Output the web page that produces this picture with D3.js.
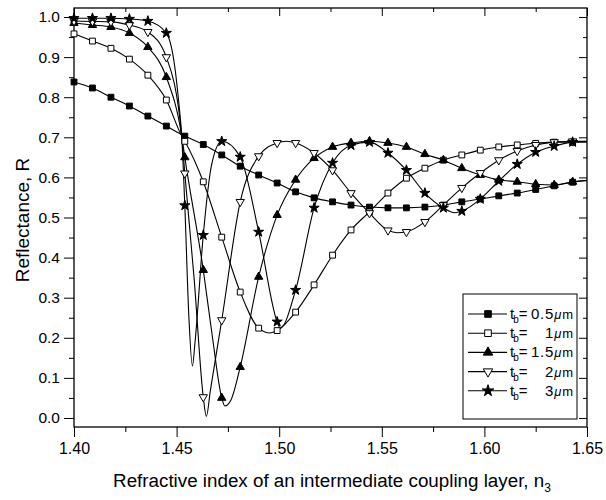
<!DOCTYPE html>
<html lang="en">
<head>
    <meta charset="UTF-8">
    <title>Reflectance vs refractive index of coupling layer</title>
    <script src="https://d3js.org/d3.v7.min.js"></script>
    <style>
        body { margin: 0; background: #fff; }
        svg { display: block; font-family: Arial, "Liberation Sans", Helvetica, sans-serif; }
    </style>
</head>
<body>
    <script>
        // marker positions along n3 (shared by all curves)
        const nGrid = [1.400, 1.409, 1.418, 1.427, 1.436, 1.445, 1.454, 1.463, 1.472, 1.481,
                       1.490, 1.499, 1.508, 1.517, 1.526, 1.535, 1.544, 1.553, 1.562, 1.571,
                       1.580, 1.589, 1.598, 1.607, 1.616, 1.625, 1.634, 1.643];

        // reflectance read at the marker positions
        const rT05 = [0.838, 0.823, 0.800, 0.778, 0.753, 0.728, 0.703, 0.682, 0.656, 0.628,
                      0.606, 0.586, 0.564, 0.549, 0.539, 0.531, 0.526, 0.524, 0.524, 0.526,
                      0.531, 0.539, 0.546, 0.554, 0.561, 0.570, 0.579, 0.588];
        const rT1  = [0.958, 0.940, 0.922, 0.895, 0.855, 0.793, 0.690, 0.589, 0.451, 0.314,
                      0.224, 0.218, 0.264, 0.332, 0.406, 0.469, 0.514, 0.561, 0.598, 0.623,
                      0.643, 0.656, 0.668, 0.676, 0.681, 0.685, 0.688, 0.688];
        const rT15 = [0.985, 0.980, 0.975, 0.960, 0.925, 0.850, 0.650, 0.369, 0.050, 0.127,
                      0.352, 0.506, 0.594, 0.648, 0.676, 0.686, 0.690, 0.686, 0.676, 0.658,
                      0.643, 0.623, 0.606, 0.594, 0.589, 0.583, 0.581, 0.589];
        const rT2  = [0.990, 0.989, 0.988, 0.980, 0.963, 0.900, 0.610, 0.052, 0.244, 0.539,
                      0.653, 0.686, 0.686, 0.661, 0.618, 0.561, 0.511, 0.468, 0.464, 0.489,
                      0.531, 0.574, 0.611, 0.643, 0.666, 0.681, 0.688, 0.690];
        const rT3  = [0.997, 0.997, 0.997, 0.995, 0.990, 0.960, 0.530, 0.456, 0.690, 0.651,
                      0.464, 0.240, 0.319, 0.524, 0.636, 0.680, 0.688, 0.661, 0.618, 0.561,
                      0.524, 0.516, 0.546, 0.591, 0.633, 0.663, 0.678, 0.688];

        // extra points of the curves between markers (dips, peaks, ends)
        const xT05 = [[1.4525, 0.707], [1.650, 0.593]];
        const xT1  = [[1.4525, 0.703], [1.4955, 0.212], [1.650, 0.688]];
        const xT15 = [[1.4525, 0.703], [1.4675, 0.200], [1.4735, 0.030], [1.4765, 0.045], [1.650, 0.592]];
        const xT2  = [[1.4525, 0.703], [1.4585, 0.350], [1.4645, 0.004], [1.4665, 0.070],
                      [1.5035, 0.690], [1.5575, 0.462], [1.650, 0.690]];
        const xT3  = [[1.449, 0.880], [1.451, 0.790], [1.4525, 0.703], [1.456, 0.250], [1.4577, 0.130],
                      [1.459, 0.190], [1.467, 0.630], [1.5005, 0.224], [1.5855, 0.512], [1.650, 0.690]];

        const seriesNames = ["0.5", "1", "1.5", "2", "3"];
        const xTicks = [1.40, 1.45, 1.50, 1.55, 1.60, 1.65];
        const yTicks = [0.0, 0.1, 0.2, 0.3, 0.4, 0.5, 0.6, 0.7, 0.8, 0.9, 1.0];

        const width = 606, height = 500;
        const mLeft = 74, mRight = 587, mTop = 8, mBottom = 427;

        const svg = d3.select("body").append("svg")
            .attr("width", width)
            .attr("height", height);

        const x = d3.scaleLinear().domain([1.40, 1.65]).range([mLeft, mRight]);
        const y = d3.scaleLinear().domain([-0.0225, 1.0225]).range([mBottom, mTop]);

        const xMinor = [1.425, 1.475, 1.525, 1.575, 1.625];
        const yMinor = [0.05, 0.15, 0.25, 0.35, 0.45, 0.55, 0.65, 0.75, 0.85, 0.95];

        // axes: bottom / left with labels, top / right mirrored with inward ticks
        function styleAxis(g) {
            g.select(".domain").remove();
            g.selectAll("line").attr("stroke", "#000").attr("stroke-width", 1);
            g.selectAll("text").attr("fill", "#000");
        }

        svg.append("g").attr("transform", `translate(0,${mBottom})`)
            .call(d3.axisBottom(x).tickValues(xTicks).tickSize(10).tickPadding(6).tickFormat(d3.format(".2f")))
            .call(styleAxis)
            .selectAll("text").attr("font-size", 16);
        svg.append("g").attr("transform", `translate(0,${mBottom})`)
            .call(d3.axisBottom(x).tickValues(xMinor).tickSize(5).tickFormat(""))
            .call(styleAxis);

        svg.append("g").attr("transform", `translate(${mLeft},0)`)
            .call(d3.axisLeft(y).tickValues(yTicks).tickSize(10).tickPadding(4).tickFormat(d3.format(".1f")))
            .call(styleAxis)
            .selectAll("text").attr("font-size", 15.5);
        svg.append("g").attr("transform", `translate(${mLeft},0)`)
            .call(d3.axisLeft(y).tickValues(yMinor).tickSize(5).tickFormat(""))
            .call(styleAxis);

        svg.append("g").attr("transform", `translate(0,${mTop})`)
            .call(d3.axisBottom(x).tickValues(xTicks).tickSize(8).tickFormat(""))
            .call(styleAxis);
        svg.append("g").attr("transform", `translate(0,${mTop})`)
            .call(d3.axisBottom(x).tickValues(xMinor).tickSize(4).tickFormat(""))
            .call(styleAxis);
        svg.append("g").attr("transform", `translate(${mRight},0)`)
            .call(d3.axisLeft(y).tickValues(yTicks).tickSize(8).tickFormat(""))
            .call(styleAxis);
        svg.append("g").attr("transform", `translate(${mRight},0)`)
            .call(d3.axisLeft(y).tickValues(yMinor).tickSize(4).tickFormat(""))
            .call(styleAxis);

        // plot frame
        svg.append("rect")
            .attr("x", mLeft).attr("y", mTop)
            .attr("width", mRight - mLeft).attr("height", mBottom - mTop)
            .attr("fill", "none").attr("stroke", "#000").attr("stroke-width", 1.3);

        // axis titles
        const xTitle = svg.append("text")
            .attr("x", 332).attr("y", 487)
            .attr("text-anchor", "middle")
            .attr("font-size", 18.8);
        xTitle.append("tspan").text("Refractive index of an intermediate coupling layer, n");
        xTitle.append("tspan").attr("font-size", 12).attr("dy", 5).text("3");

        svg.append("text")
            .attr("transform", "translate(29,220) rotate(-90)")
            .attr("text-anchor", "middle")
            .attr("font-size", 19)
            .text("Reflectance, R");

        // series
        const symbols = [
            { type: d3.symbolSquare, fill: "#000", size: 34 },
            { type: d3.symbolSquare, fill: "#fff", size: 34 },
            { type: d3.symbolTriangle, fill: "#000", size: 30, rot: 0 },
            { type: d3.symbolTriangle, fill: "#fff", size: 30, rot: 180 },
            { type: d3.symbolStar, fill: "#000", size: 32 }
        ];
        const rValues = [rT05, rT1, rT15, rT2, rT3];
        const extras = [xT05, xT1, xT15, xT2, xT3];

        const line = d3.line()
            .x(d => x(d[0]))
            .y(d => y(d[1]))
            .curve(d3.curveMonotoneX);

        const plot = svg.append("g");

        rValues.forEach((vals, i) => {
            const markers = nGrid.map((n, k) => [n, vals[k]]);
            const pts = markers.concat(extras[i]).sort((a, b) => a[0] - b[0]);
            plot.append("path")
                .attr("d", line(pts))
                .attr("fill", "none")
                .attr("stroke", "#000")
                .attr("stroke-width", 1.1);
        });

        rValues.forEach((vals, i) => {
            const s = symbols[i];
            const markers = nGrid.map((n, k) => [n, vals[k]]);
            plot.append("g")
                .selectAll("path")
                .data(markers)
                .enter().append("path")
                .attr("d", d3.symbol().type(s.type).size(s.size))
                .attr("transform", d => `translate(${x(d[0])},${y(d[1])}) rotate(${s.rot || 0})`)
                .attr("fill", s.fill)
                .attr("stroke", "#000")
                .attr("stroke-width", 1);
        });

        // legend
        const lg = svg.append("g");
        lg.append("rect")
            .attr("x", 463).attr("y", 294).attr("width", 114).attr("height", 125)
            .attr("fill", "#fff").attr("stroke", "#000").attr("stroke-width", 1);

        seriesNames.forEach((name, i) => {
            const yy = 314 + i * 19.2;
            const s = symbols[i];
            lg.append("line")
                .attr("x1", 468).attr("x2", 507).attr("y1", yy).attr("y2", yy)
                .attr("stroke", "#000").attr("stroke-width", 1.1);
            lg.append("path")
                .attr("d", d3.symbol().type(s.type).size(s.size * 1.3))
                .attr("transform", `translate(488,${yy}) rotate(${s.rot || 0})`)
                .attr("fill", s.fill).attr("stroke", "#000");
            const t = lg.append("text").attr("x", 510).attr("y", yy + 5).attr("font-size", 15);
            t.append("tspan").text("t");
            t.append("tspan").attr("font-size", 10).attr("dy", 4).attr("dx", -1).text("b");
            t.append("tspan").attr("dy", -4).text("=");
            const v = lg.append("text").attr("x", 573).attr("y", yy + 5)
                .attr("font-size", 15).attr("text-anchor", "end")
                .attr("letter-spacing", 0.8);
            v.append("tspan").text(name);
            v.append("tspan").attr("font-style", "italic").attr("font-size", 13).text("\u03bc");
            v.append("tspan").attr("font-size", 13).attr("letter-spacing", 0).text("m");
        });
    </script>
</body>
</html>
